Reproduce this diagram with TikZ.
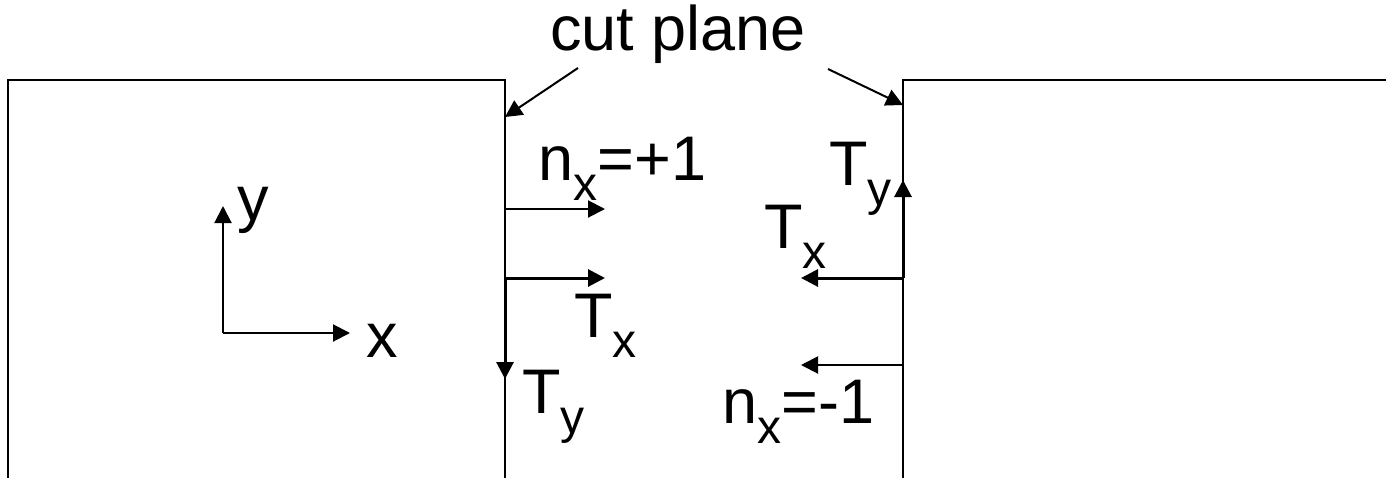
\documentclass[tikz,border=0pt]{standalone}
\usepackage{fontspec}
\setmainfont{Liberation Sans}
\usetikzlibrary{arrows.meta}
\newcommand{\sbs}[1]{\raisebox{-10pt}{\fontsize{24}{28}\selectfont #1}}
\begin{document}
\begin{tikzpicture}[x=0.5pt,y=-0.5pt,
  boxline/.style={line width=1.1pt, line join=miter},
  arr/.style={line width=1pt, -{Triangle[length=8.5pt,width=8.5pt]}},
  tarr/.style={line width=1.5pt, -{Triangle[length=8.5pt,width=8.5pt]}},
  lbl/.style={inner sep=0pt, anchor=base west, font=\fontsize{31.5}{36}\selectfont}]
\useasboundingbox (0,0) rectangle (1386,477);
% bodies
\draw[boxline] (8,480) -- (8,80) -- (505,80) -- (505,480);
\draw[boxline] (903,480) -- (903,80) -- (1390,80);
% cut plane label
\node[lbl, anchor=base] (cut) at (678,50) {cut plane};
\coordinate (cutL) at (578,68);
\coordinate (cutR) at (828,69);
\coordinate (planeL) at (505,117);
\coordinate (planeR) at (903,105);
\draw[arr] (cutL) -- (planeL);
\draw[arr] (cutR) -- (planeR);
% axes
\coordinate (o) at (223,333);
\coordinate (ytip) at (223,206);
\coordinate (xtip) at (350,333);
\draw[arr] (o) -- (ytip);
\draw[arr] (o) -- (xtip);
\node[lbl] (ylab) at (237,220) {y};
\node[lbl] (xlab) at (366,357) {x};
% left face
\coordinate (nl0) at (505,209);
\coordinate (nl1) at (605,209);
\coordinate (tl0) at (505,278);
\coordinate (txl) at (605,278);
\coordinate (tyl) at (505,379);
\draw[arr] (nl0) -- (nl1);
\draw[tarr] (tl0) -- (txl);
\draw[tarr] (tl0) -- (tyl);
\node[lbl] (nxp) at (538,180) {n\sbs{x}=+1};
\node[lbl] (Txl) at (574,337) {T\sbs{x}};
\node[lbl] (Tyl) at (522,413) {T\sbs{y}};
% right face
\coordinate (tr0) at (903,278);
\coordinate (txr) at (801,278);
\coordinate (tyr) at (903,180);
\coordinate (nr0) at (903,365);
\coordinate (nr1) at (801,365);
\draw[tarr] (tr0) -- (txr);
\draw[tarr] (tr0) -- (tyr);
\draw[arr] (nr0) -- (nr1);
\node[lbl] (Tyr) at (829,185) {T\sbs{y}};
\node[lbl] (Txr) at (764,248) {T\sbs{x}};
\node[lbl] (nxm) at (722,423) {n\sbs{x}=-1};
\end{tikzpicture}
\end{document}
